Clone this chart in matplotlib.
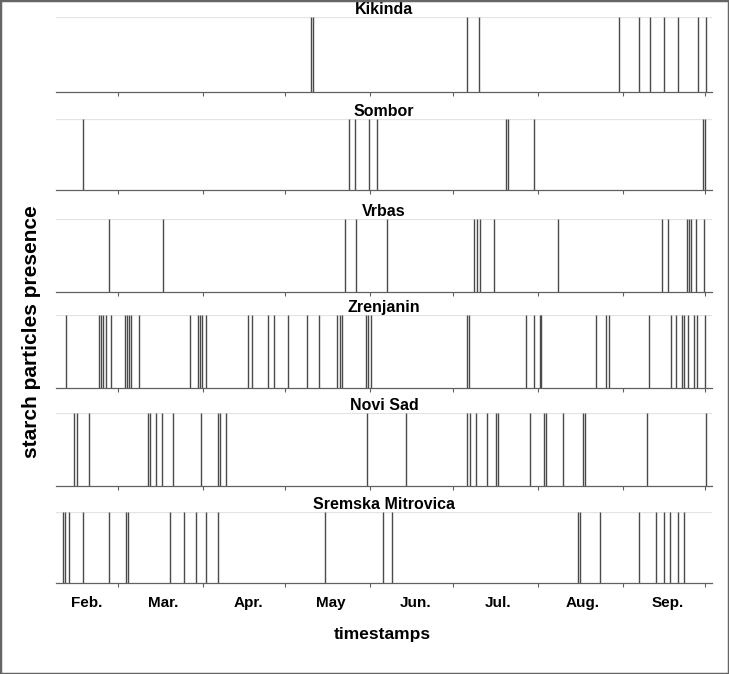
import matplotlib
matplotlib.use("Agg")
import matplotlib.pyplot as plt
from matplotlib.patches import Rectangle
from matplotlib.ticker import FixedLocator, NullFormatter, FixedFormatter

plt.rcParams['font.family'] = ['Liberation Sans', 'DejaVu Sans']

# ---- data: detection times as day of year (Jan 1 = 0) ----
stations = ["Kikinda", "Sombor", "Vrbas", "Zrenjanin", "Novi Sad", "Sremska Mitrovica"]

kikinda = [129.3, 130.0, 186.4, 190.6, 241.7, 248.8, 252.9, 258.0, 263.2, 270.6, 273.4]
sombor = [46.0, 143.3, 145.2, 150.4, 153.5, 200.4, 201.1, 210.6, 272.4, 273.0]
vrbas = [55.7, 75.3, 141.8, 145.7, 157.1, 188.7, 189.7, 190.9, 196.0, 219.6,
         257.3, 259.4, 266.3, 267.1, 267.8, 269.7, 272.7]
zrenjanin = [39.9, 52.1, 52.7, 53.4, 54.5, 56.4, 61.4, 62.1, 62.8, 63.5, 66.7,
             85.0, 88.0, 88.7, 89.4, 91.1, 106.3, 107.7, 113.5, 115.9, 120.9,
             127.7, 132.1, 138.9, 139.8, 140.6, 149.5, 150.2, 151.1, 186.1, 187.0,
             207.6, 210.6, 212.7, 213.4, 233.2, 237.1, 238.1, 252.6, 260.7, 262.5,
             264.6, 265.4, 266.9, 268.9, 270.0, 273.0]
novi_sad = [43.0, 43.8, 48.2, 69.9, 70.7, 72.8, 74.9, 79.1, 89.2, 95.5, 96.2, 98.3,
            149.6, 163.9, 186.4, 187.2, 189.5, 193.6, 196.7, 197.6, 209.2, 214.2,
            214.9, 221.3, 228.4, 229.2, 252.0, 273.4]
sremska = [38.9, 39.7, 41.1, 46.2, 55.5, 61.7, 62.5, 78.0, 83.1, 87.2, 91.2, 95.5,
           134.3, 155.7, 158.8, 226.6, 227.4, 234.7, 249.0, 255.1, 258.2, 260.3,
           263.3, 265.4]

series = [kikinda, sombor, vrbas, zrenjanin, novi_sad, sremska]

month_starts = [59, 90, 120, 151, 181, 212, 243, 273]
month_labels = ["Feb.", "Mar.", "Apr.", "May", "Jun.", "Jul.", "Aug.", "Sep."]
month_label_pos = [47.5, 75.5, 106.5, 136.5, 167.5, 197.5, 228.5, 259.5]

# ---- layout (pixels of a 729x674 canvas) ----
W, H = 729, 674
left_px, right_px = 56, 712
panels_px = [(17, 91.7), (119, 190.3), (219.3, 291.7), (315, 388.3),
             (413.3, 485.7), (512.3, 583.3)]

fig = plt.figure(figsize=(W / 100, H / 100), dpi=100)
fig.patch.set_facecolor("white")

for i, (name, vals) in enumerate(zip(stations, series)):
    top, bot = panels_px[i]
    ax = fig.add_axes([left_px / W, 1 - bot / H, (right_px - left_px) / W, (bot - top) / H])
    ax.axhline(1, color="#e3e3e3", lw=0.9, zorder=0)
    ax.vlines(vals, 0, 1, color="#4a4a4a", lw=1.0, clip_on=False)
    ax.set_xlim(36.3, 275.6)
    ax.set_ylim(0, 1)
    for s in ("top", "left", "right"):
        ax.spines[s].set_visible(False)
    ax.spines["bottom"].set_color("#606060")
    ax.spines["bottom"].set_linewidth(0.9)
    ax.set_yticks([])
    ax.xaxis.set_major_locator(FixedLocator(month_starts))
    ax.xaxis.set_major_formatter(NullFormatter())
    ax.tick_params(axis="x", which="major", length=3, width=0.8, color="#606060", direction="out")
    if i == len(stations) - 1:
        ax.xaxis.set_minor_locator(FixedLocator(month_label_pos))
        ax.xaxis.set_minor_formatter(FixedFormatter(month_labels))
        ax.tick_params(axis="x", which="minor", length=0, pad=9, labelsize=11)
        for t in ax.xaxis.get_minorticklabels():
            t.set_fontweight("bold")
    ax.set_title(name, fontsize=11.5, fontweight="bold", pad=2)
    ax.patch.set_alpha(0)

fig.text(32 / W, 1 - 332 / H, "starch particles presence", rotation=90,
         ha="center", va="center", fontsize=15, fontweight="bold")
fig.text(382 / W, 1 - 635 / H, "timestamps", ha="center", va="center",
         fontsize=12.5, fontweight="bold")

fig.add_artist(Rectangle((0, 0), 1, 1, transform=fig.transFigure, fill=False,
                         edgecolor="#666666", lw=2.5))

fig.savefig("out.png", dpi=100)
